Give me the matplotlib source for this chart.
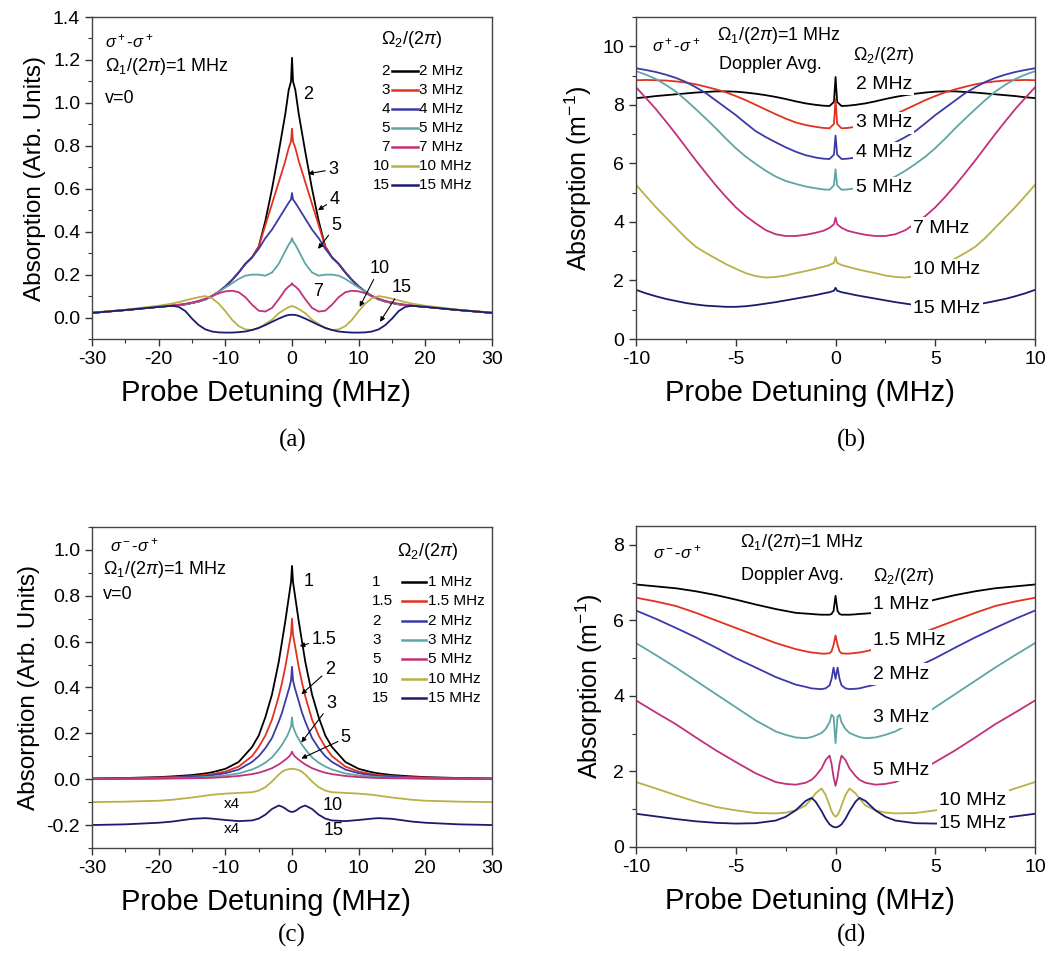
import numpy as np
import matplotlib
matplotlib.use("Agg")
import matplotlib.pyplot as plt
from matplotlib.ticker import MultipleLocator, FormatStrFormatter

plt.rcParams['font.family'] = ['Liberation Sans', 'DejaVu Sans']
plt.rcParams['mathtext.fontset'] = 'custom'
plt.rcParams['mathtext.rm'] = 'Liberation Sans'
plt.rcParams['mathtext.it'] = 'Liberation Sans:italic'
plt.rcParams['mathtext.bf'] = 'Liberation Sans:bold'
plt.rcParams['axes.unicode_minus'] = False

COLORS = ['#000000', '#e2321f', '#3b3aa6', '#5ea5a5', '#c2307c', '#b9b046', '#1c1c6e']

# ---- panel (a): sigma+ sigma+, v=0 (half profiles, curves symmetric about 0)
xa = [0, 0.15, 0.5, 1, 2, 3, 4, 5, 6, 7, 8, 9, 10, 11, 12, 13, 14, 15, 16, 17, 18, 20, 25, 30]
a_labels = ['2', '3', '4', '5', '7', '10', '15']
a_2 = [1.21, 1.1, 1.06, 0.95, 0.77, 0.60, 0.45, 0.33, 0.28, 0.25, 0.21, 0.175, 0.145, 0.12, 0.10, 0.085, 0.075, 0.068, 0.062, 0.058, 0.055, 0.05, 0.035, 0.022]
a_3 = [0.88, 0.82, 0.79, 0.73, 0.63, 0.53, 0.43, 0.33, 0.28, 0.25, 0.21, 0.175, 0.145, 0.12, 0.10, 0.085, 0.075, 0.068, 0.062, 0.058, 0.055, 0.05, 0.035, 0.022]
a_4 = [0.58, 0.55, 0.535, 0.51, 0.46, 0.41, 0.37, 0.32, 0.28, 0.25, 0.21, 0.175, 0.145, 0.12, 0.10, 0.085, 0.075, 0.068, 0.062, 0.058, 0.055, 0.05, 0.035, 0.022]
a_5 = [0.37, 0.355, 0.34, 0.31, 0.25, 0.21, 0.195, 0.20, 0.20, 0.195, 0.18, 0.16, 0.14, 0.12, 0.10, 0.085, 0.075, 0.068, 0.062, 0.058, 0.055, 0.05, 0.035, 0.022]
a_7 = [0.16, 0.152, 0.145, 0.13, 0.085, 0.045, 0.028, 0.032, 0.06, 0.095, 0.118, 0.125, 0.122, 0.113, 0.10, 0.088, 0.078, 0.07, 0.064, 0.06, 0.056, 0.05, 0.035, 0.022]
a_10 = [0.055, 0.052, 0.048, 0.04, 0.02, -0.01, -0.03, -0.05, -0.058, -0.055, -0.04, -0.01, 0.03, 0.065, 0.09, 0.10, 0.095, 0.088, 0.08, 0.072, 0.065, 0.055, 0.037, 0.023]
a_15 = [0.013, 0.013, 0.012, 0.008, -0.005, -0.02, -0.035, -0.048, -0.058, -0.065, -0.068, -0.07, -0.07, -0.069, -0.065, -0.055, -0.035, -0.005, 0.03, 0.05, 0.055, 0.05, 0.035, 0.022]

# ---- panel (b): sigma+ sigma+, Doppler averaged
xb = [0, 0.08, 0.3, 0.6, 1, 1.5, 2, 2.5, 3, 3.5, 4, 4.5, 5, 5.5, 6, 6.5, 7, 7.5, 8, 8.5, 9, 9.5, 10]
b_labels = ['2 MHz', '3 MHz', '4 MHz', '5 MHz', '7 MHz', '10 MHz', '15 MHz']
b_2 = [8.95, 8.1, 7.96, 7.97, 8.0, 8.05, 8.12, 8.2, 8.27, 8.33, 8.38, 8.42, 8.45, 8.46, 8.46, 8.44, 8.42, 8.39, 8.36, 8.33, 8.3, 8.26, 8.23]
b_3 = [8.2, 7.35, 7.2, 7.21, 7.25, 7.31, 7.4, 7.53, 7.68, 7.84, 8.0, 8.16, 8.3, 8.43, 8.53, 8.62, 8.7, 8.76, 8.8, 8.83, 8.84, 8.85, 8.84]
b_4 = [6.95, 6.3, 6.15, 6.16, 6.2, 6.28, 6.4, 6.55, 6.72, 6.9, 7.1, 7.37, 7.65, 7.9, 8.15, 8.4, 8.6, 8.78, 8.92, 9.03, 9.12, 9.19, 9.25]
b_5 = [5.8, 5.25, 5.1, 5.11, 5.15, 5.21, 5.3, 5.4, 5.55, 5.75, 5.98, 6.23, 6.52, 6.85, 7.2, 7.53, 7.85, 8.16, 8.45, 8.68, 8.88, 9.03, 9.15]
b_7 = [4.15, 3.92, 3.8, 3.7, 3.63, 3.56, 3.52, 3.52, 3.58, 3.72, 3.95, 4.2, 4.5, 4.86, 5.25, 5.67, 6.1, 6.55, 7.0, 7.43, 7.85, 8.23, 8.6]
b_10 = [2.8, 2.6, 2.53, 2.47, 2.4, 2.32, 2.25, 2.17, 2.12, 2.1, 2.15, 2.25, 2.4, 2.56, 2.75, 2.94, 3.15, 3.45, 3.8, 4.15, 4.5, 4.88, 5.27]
b_15 = [1.75, 1.65, 1.6, 1.56, 1.5, 1.44, 1.38, 1.32, 1.26, 1.21, 1.16, 1.12, 1.1, 1.1, 1.12, 1.14, 1.18, 1.23, 1.3, 1.37, 1.46, 1.56, 1.68]

# ---- panel (c): sigma- sigma+, v=0
xc = [0, 0.15, 0.4, 0.7, 1, 1.5, 2, 3, 4, 5, 6, 8, 10, 12, 13, 15, 18, 20, 25, 30]
c_labels = ['1', '1.5', '2', '3', '5', '10', '15']
c_1 = [0.93, 0.86, 0.81, 0.75, 0.69, 0.60, 0.51, 0.37, 0.27, 0.19, 0.14, 0.075, 0.045, 0.03, 0.025, 0.018, 0.012, 0.009, 0.005, 0.003]
c_1p5 = [0.70, 0.63, 0.59, 0.54, 0.49, 0.42, 0.36, 0.26, 0.19, 0.14, 0.10, 0.055, 0.033, 0.022, 0.018, 0.013, 0.009, 0.007, 0.004, 0.002]
c_2 = [0.49, 0.43, 0.40, 0.37, 0.34, 0.29, 0.25, 0.18, 0.135, 0.10, 0.075, 0.042, 0.026, 0.017, 0.014, 0.01, 0.007, 0.005, 0.003, 0.002]
c_3 = [0.27, 0.23, 0.21, 0.19, 0.175, 0.15, 0.13, 0.095, 0.072, 0.055, 0.042, 0.025, 0.016, 0.011, 0.009, 0.006, 0.004, 0.003, 0.002, 0.001]
c_5 = [0.12, 0.11, 0.10, 0.092, 0.085, 0.074, 0.064, 0.048, 0.037, 0.028, 0.022, 0.014, 0.009, 0.006, 0.005, 0.004, 0.003, 0.002, 0.001, 0.0]
c_10 = [0.045, 0.045, 0.044, 0.042, 0.04, 0.032, 0.02, -0.01, -0.035, -0.05, -0.057, -0.06, -0.063, -0.068, -0.072, -0.08, -0.09, -0.094, -0.098, -0.1]
c_15 = [-0.143, -0.142, -0.14, -0.135, -0.128, -0.12, -0.115, -0.13, -0.155, -0.172, -0.18, -0.183, -0.178, -0.172, -0.17, -0.173, -0.185, -0.19, -0.197, -0.2]

# ---- panel (d): sigma- sigma+, Doppler averaged
xd = [0, 0.1, 0.2, 0.3, 0.5, 0.7, 1, 1.2, 1.5, 2, 2.5, 3, 4, 5, 6, 7, 8, 9, 10]
d_labels = ['1 MHz', '1.5 MHz', '2 MHz', '3 MHz', '5 MHz', '10 MHz', '15 MHz']
d_1 = [6.65, 6.25, 6.17, 6.15, 6.15, 6.15, 6.16, 6.17, 6.18, 6.2, 6.25, 6.3, 6.42, 6.55, 6.67, 6.77, 6.85, 6.9, 6.95]
d_1p5 = [5.6, 5.35, 5.18, 5.13, 5.12, 5.12, 5.14, 5.15, 5.18, 5.24, 5.32, 5.4, 5.6, 5.8, 6.0, 6.2, 6.38, 6.5, 6.6]
d_2 = [4.45, 4.75, 4.45, 4.28, 4.2, 4.18, 4.19, 4.2, 4.24, 4.3, 4.4, 4.5, 4.75, 5.0, 5.28, 5.55, 5.8, 6.04, 6.26]
d_3 = [2.75, 3.45, 3.5, 3.3, 3.12, 3.02, 2.95, 2.91, 2.88, 2.9, 2.97, 3.06, 3.35, 3.7, 4.05, 4.4, 4.75, 5.08, 5.4]
d_5 = [1.62, 1.85, 2.2, 2.42, 2.3, 2.08, 1.88, 1.78, 1.7, 1.65, 1.67, 1.72, 1.95, 2.25, 2.56, 2.9, 3.25, 3.56, 3.88]
d_10 = [0.8, 0.85, 0.95, 1.1, 1.38, 1.55, 1.42, 1.28, 1.1, 0.97, 0.91, 0.89, 0.9, 0.97, 1.06, 1.2, 1.37, 1.55, 1.72]
d_15 = [0.52, 0.53, 0.56, 0.6, 0.75, 0.95, 1.2, 1.3, 1.22, 0.97, 0.8, 0.7, 0.63, 0.62, 0.64, 0.68, 0.74, 0.81, 0.88]


def mirror(xh, yh):
    """Build full symmetric curve from half profile (x >= 0)."""
    xh = np.asarray(xh, float)
    yh = np.asarray(yh, float)
    return np.concatenate([-xh[:0:-1], xh]), np.concatenate([yh[:0:-1], yh])


def style_axes(ax, xmaj, xmin, ymaj, ymin, yfmt=None):
    ax.xaxis.set_major_locator(MultipleLocator(xmaj))
    ax.xaxis.set_minor_locator(MultipleLocator(xmin))
    ax.yaxis.set_major_locator(MultipleLocator(ymaj))
    ax.yaxis.set_minor_locator(MultipleLocator(ymin))
    if yfmt:
        ax.yaxis.set_major_formatter(FormatStrFormatter(yfmt))
    ax.tick_params(which='both', direction='out', top=False, right=False,
                   labelsize=14, color='#333333')
    ax.tick_params(which='major', length=5, width=1)
    ax.tick_params(which='minor', length=3, width=0.8)
    for s in ax.spines.values():
        s.set_color('#444444')
        s.set_linewidth(1.0)
    ax.set_xlabel('Probe Detuning (MHz)', fontsize=21)
    ax.xaxis.set_label_coords(0.435, -0.125)


def draw_curves(ax, xh, curves):
    for yh, c in zip(curves, COLORS):
        x, y = mirror(xh, yh)
        ax.plot(x, y, color=c, lw=1.3, zorder=2)


def draw_legend(ax, nums, x_num, x1, x2, x_lab, y0, dy, title_xy, num_ha):
    ax.text(title_xy[0], title_xy[1], r'$\Omega_2$/(2$\pi$)', transform=ax.transAxes,
            fontsize=13, ha='center', va='center')
    for i, (n, c) in enumerate(zip(nums, COLORS)):
        y = y0 - i * dy
        ax.text(x_num, y, n, transform=ax.transAxes, fontsize=11, ha=num_ha, va='center')
        ax.plot([x1, x2], [y, y], transform=ax.transAxes, color=c, lw=1.8)
        ax.text(x_lab, y, n + ' MHz', transform=ax.transAxes, fontsize=11,
                ha='left', va='center')


fig = plt.figure(figsize=(10.59, 9.67), dpi=100)
axa = fig.add_axes([0.0869, 0.6494, 0.3777, 0.333])
axb = fig.add_axes([0.6006, 0.6494, 0.3768, 0.333])
axc = fig.add_axes([0.0869, 0.1231, 0.3777, 0.3320])
axd = fig.add_axes([0.6006, 0.1241, 0.3768, 0.3320])

arrow = dict(arrowstyle='-|>', color='black', lw=0.8, mutation_scale=7,
             shrinkA=0, shrinkB=0)

# (a)
draw_curves(axa, xa, [a_2, a_3, a_4, a_5, a_7, a_10, a_15])
axa.set_xlim(-30, 30)
axa.set_ylim(-0.1, 1.4)
style_axes(axa, 10, 5, 0.2, 0.1, '%.1f')
axa.set_ylabel('Absorption (Arb. Units)', fontsize=17.5, labelpad=5)
axa.text(0.033, 0.925, r'$\sigma^+$-$\sigma^+$', transform=axa.transAxes, fontsize=12, va='center')
axa.text(0.033, 0.846, r'$\Omega_1$/(2$\pi$)=1 MHz', transform=axa.transAxes, fontsize=13, va='center')
axa.text(0.033, 0.748, 'v=0', transform=axa.transAxes, fontsize=13, va='center')
draw_legend(axa, a_labels, 0.745, 0.75, 0.815, 0.818, 0.833, 0.059, (0.80, 0.929), 'right')
axa.text(1.6, 1.04, '2', fontsize=13, va='center')
axa.annotate('3', xy=(2.4, 0.67), xytext=(5.4, 0.69), fontsize=13, va='center', arrowprops=arrow)
axa.annotate('4', xy=(3.9, 0.50), xytext=(5.6, 0.55), fontsize=13, va='center', arrowprops=arrow)
axa.annotate('5', xy=(3.9, 0.32), xytext=(5.9, 0.43), fontsize=13, va='center', arrowprops=arrow)
axa.text(3.2, 0.12, '7', fontsize=13, va='center')
axa.annotate('10', xy=(10.15, 0.05), xytext=(11.6, 0.23), fontsize=13, va='center', arrowprops=arrow)
axa.annotate('15', xy=(13.2, -0.02), xytext=(15.0, 0.14), fontsize=13, va='center', arrowprops=arrow)

# (b)
draw_curves(axb, xb, [b_2, b_3, b_4, b_5, b_7, b_10, b_15])
axb.set_xlim(-10, 10)
axb.set_ylim(0, 11)
style_axes(axb, 5, 2.5, 2, 1)
axb.set_ylabel('Absorption (m$^{-1}$)', fontsize=18, labelpad=6)
axb.text(0.04, 0.913, r'$\sigma^+$-$\sigma^+$', transform=axb.transAxes, fontsize=12, va='center')
axb.text(0.203, 0.944, r'$\Omega_1$/(2$\pi$)=1 MHz', transform=axb.transAxes, fontsize=13, va='center')
axb.text(0.207, 0.851, 'Doppler Avg.', transform=axb.transAxes, fontsize=13, va='center')
axb.text(0.544, 0.882, r'$\Omega_2$/(2$\pi$)', transform=axb.transAxes, fontsize=13, va='center')
b_pos = [(1.0, 8.69), (1.0, 7.38), (1.0, 6.36), (1.0, 5.16), (3.9, 3.79), (3.9, 2.37), (3.9, 1.06)]
bbox = dict(facecolor='white', edgecolor='none', pad=1.5)
for lab, (px, py) in zip(b_labels, b_pos):
    axb.text(px, py, lab, fontsize=14, va='center', ha='left', bbox=bbox, zorder=4)

# (c)
draw_curves(axc, xc, [c_1, c_1p5, c_2, c_3, c_5, c_10, c_15])
axc.set_xlim(-30, 30)
axc.set_ylim(-0.3, 1.1)
style_axes(axc, 10, 5, 0.2, 0.1, '%.1f')
axc.set_ylabel('Absorption (Arb. Units)', fontsize=17.5, labelpad=5)
axc.text(0.045, 0.944, r'$\sigma^-$-$\sigma^+$', transform=axc.transAxes, fontsize=12, va='center')
axc.text(0.028, 0.866, r'$\Omega_1$/(2$\pi$)=1 MHz', transform=axc.transAxes, fontsize=13, va='center')
axc.text(0.028, 0.788, 'v=0', transform=axc.transAxes, fontsize=13, va='center')
draw_legend(axc, c_labels, 0.70, 0.775, 0.835, 0.84, 0.829, 0.0603, (0.84, 0.922), 'left')
axc.text(1.8, 0.864, '1', fontsize=13, va='center')
axc.annotate('1.5', xy=(1.15, 0.58), xytext=(2.9, 0.61), fontsize=13, va='center', arrowprops=arrow)
axc.annotate('2', xy=(1.4, 0.37), xytext=(4.9, 0.48), fontsize=13, va='center', arrowprops=arrow)
axc.annotate('3', xy=(1.4, 0.16), xytext=(5.1, 0.33), fontsize=13, va='center', arrowprops=arrow)
axc.annotate('5', xy=(1.4, 0.09), xytext=(7.3, 0.18), fontsize=13, va='center', arrowprops=arrow)
axc.text(4.6, -0.114, '10', fontsize=13, va='center')
axc.text(4.8, -0.223, '15', fontsize=13, va='center')
axc.text(-10.2, -0.107, 'x4', fontsize=11, va='center')
axc.text(-10.2, -0.216, 'x4', fontsize=11, va='center')

# (d)
draw_curves(axd, xd, [d_1, d_1p5, d_2, d_3, d_5, d_10, d_15])
axd.set_xlim(-10, 10)
axd.set_ylim(0, 8.5)
style_axes(axd, 5, 2.5, 2, 1)
axd.set_ylabel('Absorption (m$^{-1}$)', fontsize=18, labelpad=6)
axd.text(0.043, 0.919, r'$\sigma^-$-$\sigma^+$', transform=axd.transAxes, fontsize=12, va='center')
axd.text(0.26, 0.947, r'$\Omega_1$/(2$\pi$)=1 MHz', transform=axd.transAxes, fontsize=13, va='center')
axd.text(0.262, 0.847, 'Doppler Avg.', transform=axd.transAxes, fontsize=13, va='center')
axd.text(0.594, 0.841, r'$\Omega_2$/(2$\pi$)', transform=axd.transAxes, fontsize=13, va='center')
d_pos = [(1.9, 6.42), (1.9, 5.46), (1.9, 4.58), (1.9, 3.44), (1.9, 2.03), (5.2, 1.23), (5.2, 0.62)]
for lab, (px, py) in zip(d_labels, d_pos):
    axd.text(px, py, lab, fontsize=14, va='center', ha='left', bbox=bbox, zorder=4)

# sub-captions
for lab, x, y in [('(a)', 0.276, 0.545), ('(b)', 0.8045, 0.545),
                  ('(c)', 0.276, 0.033), ('(d)', 0.8045, 0.033)]:
    fig.text(x, y, lab, fontsize=18, ha='center', va='center', family='Liberation Serif')

fig.savefig('out.png', dpi=100, facecolor='white')
